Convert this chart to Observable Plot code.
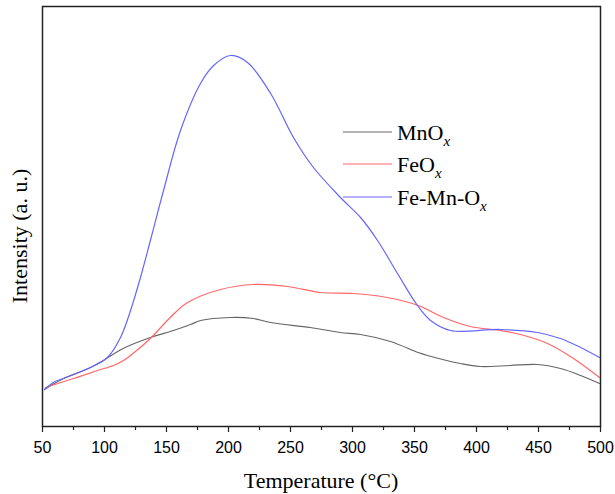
<!DOCTYPE html>
<html><head><meta charset="utf-8">
<script src="https://cdn.jsdelivr.net/npm/d3@7"></script>
<script src="https://cdn.jsdelivr.net/npm/@observablehq/plot@0.6"></script>
<style>body{margin:0;background:#fff}</style>
</head><body><div id="chart"></div>
<script>
// Series names
const seriesNames = ["MnO", "FeO", "Fe-Mn-O"];
const seriesColors = ["#666666", "#ff6666", "#6666ff"];

// MnOx
const mnT = [51.6, 67, 88.7, 99, 115, 137, 155.6, 169.4, 177.4, 201.6, 220, 234, 266, 290, 306.5, 330.6, 353, 360.5, 387, 403, 427, 449, 467.7, 484, 499.2];
const mnI = [37, 48, 59, 66, 78, 89, 96, 102, 106, 109, 108, 104, 99, 94, 92, 85, 74, 71, 63, 60, 61, 62, 58, 51, 43];

// FeOx
const feT = [52.4, 75, 94.4, 107.3, 115.3, 121, 137, 153, 167, 193.5, 220, 247.6, 274, 300.8, 328, 353, 373.4, 395, 419.4, 435.5, 457.3, 478.2, 499.2];
const feI = [39, 48, 56, 61, 66, 71, 88, 109, 124, 137, 142, 140, 134, 133, 129, 121, 109, 100, 96, 92, 83, 68, 49];

// Fe-Mn-Ox
const fmT = [51.6, 60, 67, 88.7, 102.4, 112.9, 121, 129, 137, 147.6, 161.3, 177.4, 188, 201.6, 215.3, 234, 252.4, 268.5, 290.3, 306.5, 320.2, 336.3, 352.4, 363, 379, 419.4, 449.2, 467.7, 484, 499.2];
const fmI = [37, 45, 48, 59, 69, 89, 116, 149, 186, 236, 296, 343, 361, 371, 364, 333, 289, 259, 229, 209, 186, 153, 121, 106, 96, 97, 94, 88, 79, 69];

// Axis ticks
const majorTicks = [50, 100, 150, 200, 250, 300, 350, 400, 450, 500];
const minorTicks = [75, 125, 175, 225, 275, 325, 375, 425, 475];

const toRows = (name, T, I) => T.map((t, i) => ({series: name, t, v: I[i]}));
const rows = [
  ...toRows(seriesNames[0], mnT, mnI),
  ...toRows(seriesNames[1], feT, feI),
  ...toRows(seriesNames[2], fmT, fmI)
];

const chart = Plot.plot({
  width: 615,
  height: 494,
  marginLeft: 42,
  marginRight: 15,
  marginTop: 6,
  marginBottom: 68,
  style: {background: "#fff", overflow: "visible"},
  x: {domain: [50, 500]},
  y: {domain: [0, 420], axis: null},
  color: {domain: seriesNames, range: seriesColors},
  marks: [
    Plot.lineY(rows, {x: "t", y: "v", z: "series", stroke: "series", strokeWidth: 1.2, curve: "catmull-rom"}),
    Plot.axisX(majorTicks, {tickSize: 6, tickPadding: 9, fontSize: 16, fontFamily: "Liberation Sans, Arial, sans-serif", fill: "#000", stroke: "#222", strokeWidth: 1.2, label: null}),
    Plot.axisX(minorTicks, {tickSize: 4, text: null, stroke: "#222", strokeWidth: 1.2, label: null}),
    Plot.frame({stroke: "#222", strokeWidth: 1.5})
  ]
});
document.getElementById("chart").append(chart);

const svg = d3.select(chart);
const serif = "Liberation Serif, Times New Roman, serif";

// axis titles
svg.append("text")
  .attr("x", 321).attr("y", 488)
  .attr("text-anchor", "middle")
  .attr("font-family", serif).attr("font-size", 22).attr("fill", "#000")
  .text("Temperature (°C)");
svg.append("text")
  .attr("transform", "translate(27,236) rotate(-90)")
  .attr("text-anchor", "middle")
  .attr("font-family", serif).attr("font-size", 22).attr("fill", "#000")
  .text("Intensity (a. u.)");

// legend
const lg = svg.append("g").attr("text-anchor", "start");
const legendY = [132, 164, 197];
seriesNames.forEach((name, i) => {
  const y = legendY[i];
  lg.append("line").attr("x1", 343).attr("x2", 392).attr("y1", y).attr("y2", y)
    .attr("stroke", seriesColors[i]).attr("stroke-width", 1.2);
  const t = lg.append("text").attr("x", 397).attr("y", y + 7.5)
    .attr("text-anchor", "start")
    .attr("font-family", serif).attr("font-size", 22).attr("fill", "#000");
  t.append("tspan").text(name);
  t.append("tspan").attr("font-style", "italic").attr("font-size", 15).attr("dy", 6).text("x");
});
</script></body></html>
